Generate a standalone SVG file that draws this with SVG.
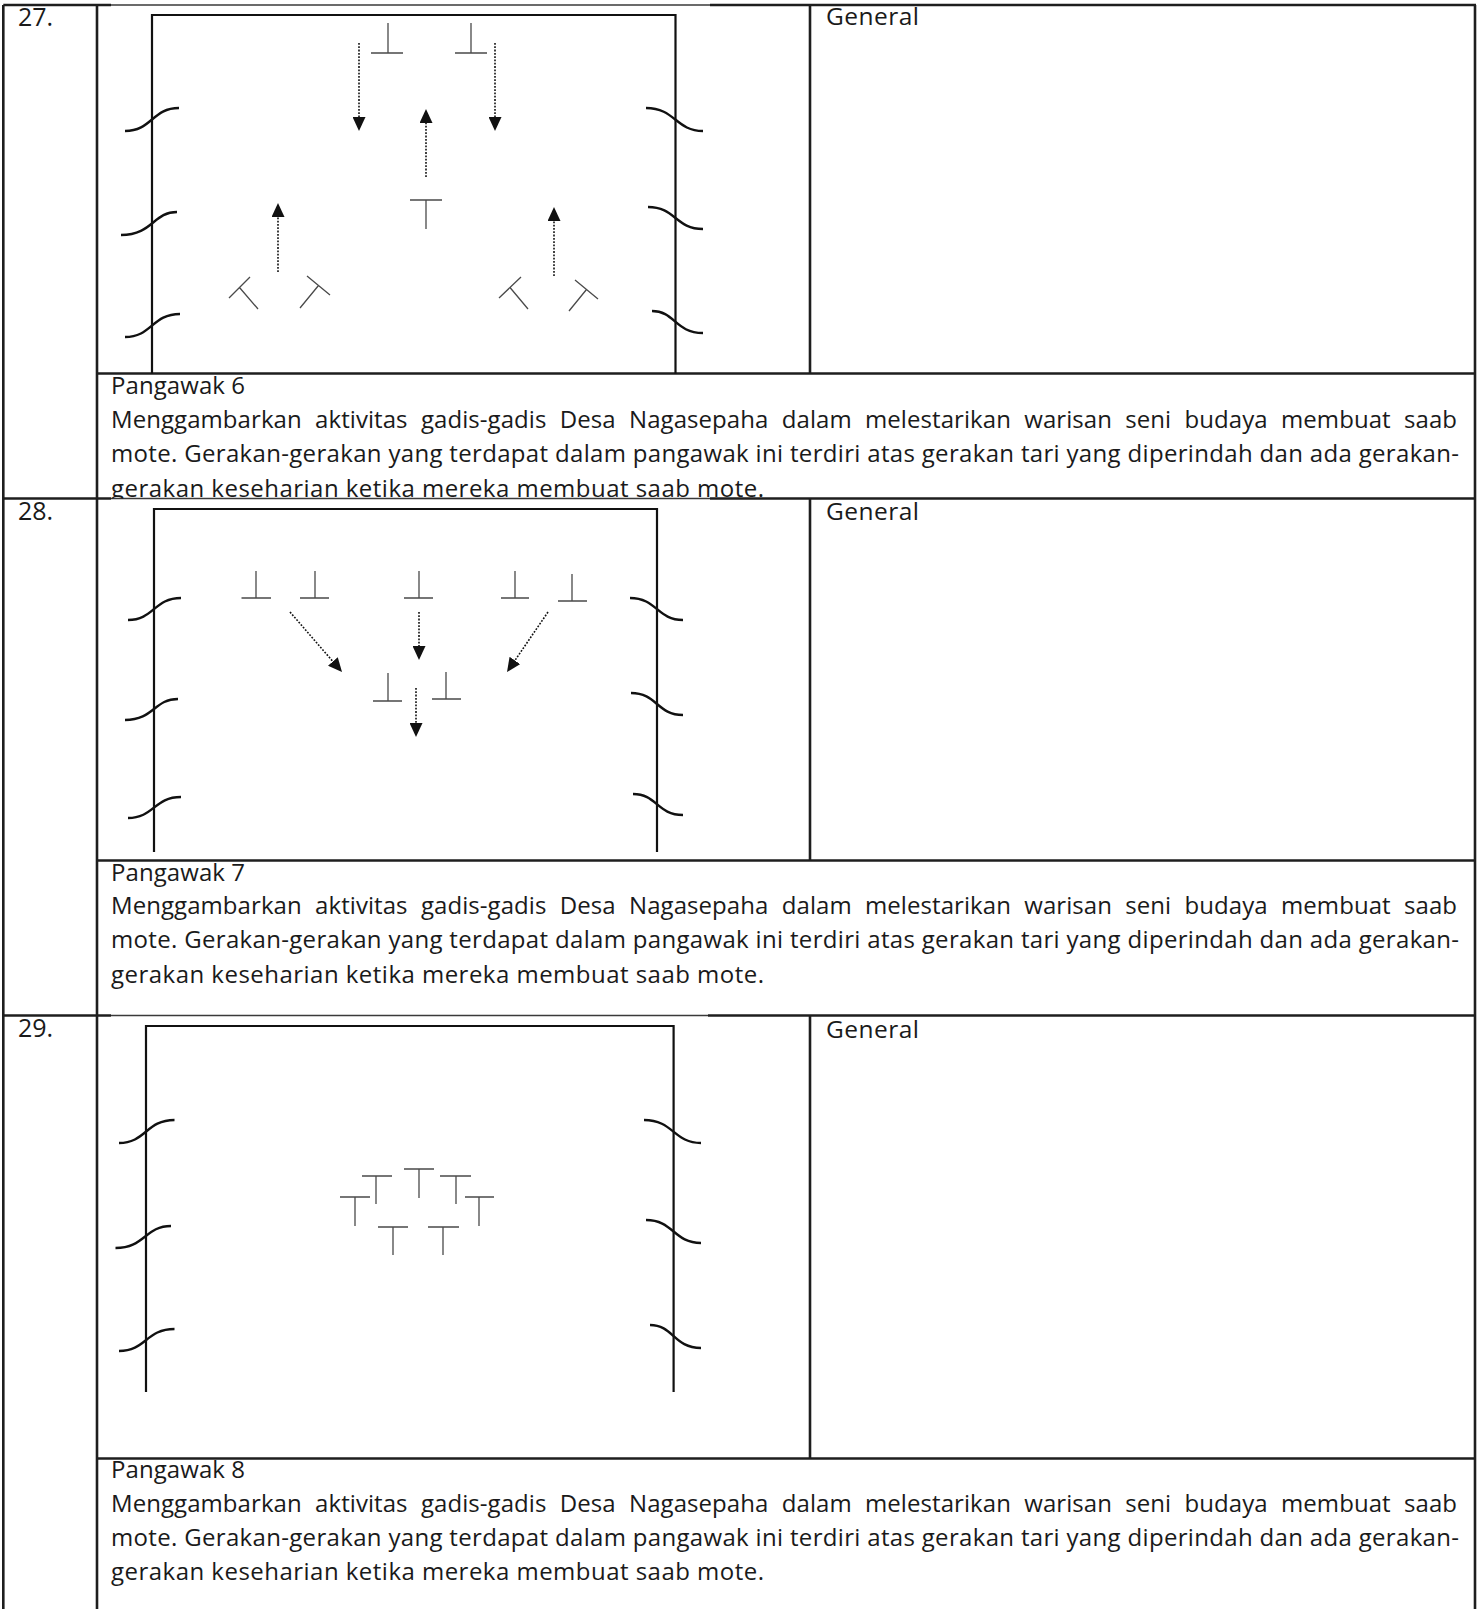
<svg xmlns="http://www.w3.org/2000/svg" width="1480" height="1609" viewBox="0 0 1480 1609">
<style>
.tb{stroke:#1e1e1e;stroke-width:2.6;fill:none}
.tbt{stroke:#3a3a3a;stroke-width:1.4;fill:none}
.st{stroke:#111;stroke-width:2.2;fill:none}
.br{stroke:#111;stroke-width:2.4;fill:none}
.dn{stroke:#4a4a4a;stroke-width:1.3;fill:none}
.ar{stroke:#111;stroke-width:1.6;stroke-dasharray:1.8 1.5;fill:none;marker-end:url(#ah)}
text{font-family:"Open Sans","Liberation Sans",sans-serif;fill:#1a1a1a;font-weight:500}
.num{font-size:25px}
.gen{font-size:24.5px}
.body{font-size:24px}
.l1{word-spacing:7px}
</style>
<defs>
<marker id="ah" markerUnits="userSpaceOnUse" markerWidth="14" markerHeight="13" refX="10" refY="6.5" orient="auto"><path d="M0,0 L14,6.5 L0,13 z" fill="#111"/></marker>
<clipPath id="clip27"><rect x="100" y="470" width="1370" height="28.5"/></clipPath>
</defs>
<rect width="1480" height="1609" fill="#fff"/>

<g id="table">
<line class="tb" x1="3.3" y1="5" x2="111" y2="5"/>
<line class="tbt" x1="111" y1="5" x2="710" y2="5"/>
<line class="tb" x1="710" y1="5" x2="1476" y2="5"/>
<line class="tb" x1="97" y1="373.5" x2="1476" y2="373.5"/>
<line class="tb" x1="3.3" y1="498.5" x2="111" y2="498.5"/>
<line class="tbt" x1="111" y1="498.5" x2="710" y2="498.5"/>
<line class="tb" x1="710" y1="498.5" x2="1476" y2="498.5"/>
<line class="tb" x1="97" y1="860.5" x2="1476" y2="860.5"/>
<line class="tb" x1="3.3" y1="1015.5" x2="111" y2="1015.5"/>
<line class="tbt" x1="111" y1="1015.5" x2="708" y2="1015.5"/>
<line class="tb" x1="708" y1="1015.5" x2="1476" y2="1015.5"/>
<line class="tb" x1="97" y1="1458.5" x2="1476" y2="1458.5"/>
<line class="tb" x1="3.3" y1="5" x2="3.3" y2="1609"/>
<line class="tb" x1="97" y1="5" x2="97" y2="1609"/>
<line class="tb" x1="1475" y1="5" x2="1475" y2="1609"/>
<line class="tb" x1="810" y1="5" x2="810" y2="373.5"/>
<line class="tb" x1="810" y1="498.5" x2="810" y2="860.5"/>
<line class="tb" x1="810" y1="1015.5" x2="810" y2="1458.5"/>
</g>

<g id="labels">
<text class="num" x="18" y="26" textLength="35">27.</text>
<text class="num" x="18" y="519.5" textLength="35">28.</text>
<text class="num" x="18" y="1037" textLength="35">29.</text>
<text class="gen" x="826" y="25" textLength="93">General</text>
<text class="gen" x="826" y="520" textLength="93">General</text>
<text class="gen" x="826" y="1037.5" textLength="93">General</text>
</g>

<!-- Row 27 stage -->
<g id="stage27">
<path class="st" d="M152,373.5 V15 H675.5 V373.5"/>
<path class="br" d="M125,131 C152,131 152,108 179,108"/>
<path class="br" d="M121,235 C153,235 153,212 177,212"/>
<path class="br" d="M125,337 C152,337 152,314 180,314"/>
<path class="br" d="M646,108 C675.5,108 675.5,131 703,131"/>
<path class="br" d="M648,207 C675.5,207 675.5,229 703,229"/>
<path class="br" d="M652,311 C675,311 675,333 703,333"/>
</g>
<g id="dancer27-1"><path class="dn" d="M388,23 V53 M371,53 H403"/></g>
<g id="dancer27-2"><path class="dn" d="M471,23 V53 M455,53 H487"/></g>
<g id="dancer27-3"><path class="dn" d="M410,200 H442 M426,200 V229"/></g>
<g id="dancer27-4"><path class="dn" d="M229,298 L250,277 M239.5,287.5 L258,309"/></g>
<g id="dancer27-5"><path class="dn" d="M307,276 L330,295 M318.5,285.5 L300,308"/></g>
<g id="dancer27-6"><path class="dn" d="M499,298 L521,277 M510,287.5 L528,309"/></g>
<g id="dancer27-7"><path class="dn" d="M575,280 L598,299 M586.5,289.5 L569,311"/></g>

<!-- Row 28 stage -->
<g id="stage28">
<path class="st" d="M154,852 V509 H657 V852"/>
<path class="br" d="M128,620 C154,620 154,598 181,598"/>
<path class="br" d="M125,720 C154,720 154,699 178,699"/>
<path class="br" d="M128,818 C154,818 154,797 181,797"/>
<path class="br" d="M630,598 C657,598 657,620 683,620"/>
<path class="br" d="M631,693 C657,693 657,715 683,715"/>
<path class="br" d="M633,794 C657,794 657,815 683,815"/>
</g>
<g id="dancer28-1"><path class="dn" d="M256,571 V598 M241.5,598 H271"/></g>
<g id="dancer28-2"><path class="dn" d="M315,571 V598 M300,598 H329"/></g>
<g id="dancer28-3"><path class="dn" d="M419,571 V598 M404,598 H433"/></g>
<g id="dancer28-4"><path class="dn" d="M515,571 V598 M501,598 H529"/></g>
<g id="dancer28-5"><path class="dn" d="M572,574 V601 M558,601 H587"/></g>
<g id="dancer28-6"><path class="dn" d="M388,673 V701 M373,701 H402"/></g>
<g id="dancer28-7"><path class="dn" d="M446,672 V699 M432,699 H461"/></g>

<!-- Row 29 stage -->
<g id="stage29">
<path class="st" d="M146,1392 V1026 H673.6 V1392"/>
<path class="br" d="M119,1143 C146,1143 146,1120 174.5,1120"/>
<path class="br" d="M115.5,1248 C145,1248 145,1226 171,1226"/>
<path class="br" d="M119,1351 C146,1351 146,1329 174.5,1329"/>
<path class="br" d="M644,1120 C673.6,1120 673.6,1143 701,1143"/>
<path class="br" d="M646,1220 C673.6,1220 673.6,1243 701,1243"/>
<path class="br" d="M650,1325 C673.6,1325 673.6,1348 701,1348"/>
</g>
<g id="dancer29-1"><path class="dn" d="M362,1176 H392 M376,1176 V1204"/></g>
<g id="dancer29-2"><path class="dn" d="M404,1169 H434 M419,1169 V1198"/></g>
<g id="dancer29-3"><path class="dn" d="M440,1176 H471 M456,1176 V1204"/></g>
<g id="dancer29-4"><path class="dn" d="M340,1197 H370 M355,1197 V1226"/></g>
<g id="dancer29-5"><path class="dn" d="M465,1197 H494 M479,1197 V1226"/></g>
<g id="dancer29-6"><path class="dn" d="M378,1227 H408 M393,1227 V1255"/></g>
<g id="dancer29-7"><path class="dn" d="M428,1227 H459 M443,1227 V1255"/></g>

<g id="connectors">
<line class="ar" x1="359" y1="43" x2="359" y2="127"/>
<line class="ar" x1="495" y1="43" x2="495" y2="127"/>
<line class="ar" x1="426" y1="177" x2="426" y2="113"/>
<line class="ar" x1="278" y1="272" x2="278" y2="207"/>
<line class="ar" x1="554" y1="276" x2="554" y2="211"/>
<line class="ar" x1="290" y1="612" x2="339.4" y2="669"/>
<line class="ar" x1="419" y1="612" x2="419" y2="656"/>
<line class="ar" x1="548" y1="612" x2="509.3" y2="668.7"/>
<line class="ar" x1="416" y1="688" x2="416" y2="733"/>
</g>

<g id="desc27">
<text class="body" x="111" y="394.3" textLength="134">Pangawak 6</text>
<text class="body l1" x="111" y="428.3" textLength="1346" lengthAdjust="spacing">Menggambarkan aktivitas gadis-gadis Desa Nagasepaha dalam melestarikan warisan seni budaya membuat saab</text>
<text class="body" x="111" y="461.7" textLength="1348" lengthAdjust="spacing">mote. Gerakan-gerakan yang terdapat dalam pangawak ini terdiri atas gerakan tari yang diperindah dan ada gerakan-</text>
<text class="body" x="111" y="496.7" textLength="653" lengthAdjust="spacing" clip-path="url(#clip27)">gerakan keseharian ketika mereka membuat saab mote.</text>
</g>
<g id="desc28">
<text class="body" x="111" y="880.7" textLength="134">Pangawak 7</text>
<text class="body l1" x="111" y="914" textLength="1346" lengthAdjust="spacing">Menggambarkan aktivitas gadis-gadis Desa Nagasepaha dalam melestarikan warisan seni budaya membuat saab</text>
<text class="body" x="111" y="948.3" textLength="1348" lengthAdjust="spacing">mote. Gerakan-gerakan yang terdapat dalam pangawak ini terdiri atas gerakan tari yang diperindah dan ada gerakan-</text>
<text class="body" x="111" y="982.7" textLength="653" lengthAdjust="spacing">gerakan keseharian ketika mereka membuat saab mote.</text>
</g>
<g id="desc29">
<text class="body" x="111" y="1478.3" textLength="134">Pangawak 8</text>
<text class="body l1" x="111" y="1511.7" textLength="1346" lengthAdjust="spacing">Menggambarkan aktivitas gadis-gadis Desa Nagasepaha dalam melestarikan warisan seni budaya membuat saab</text>
<text class="body" x="111" y="1546" textLength="1348" lengthAdjust="spacing">mote. Gerakan-gerakan yang terdapat dalam pangawak ini terdiri atas gerakan tari yang diperindah dan ada gerakan-</text>
<text class="body" x="111" y="1580" textLength="653" lengthAdjust="spacing">gerakan keseharian ketika mereka membuat saab mote.</text>
</g>
</svg>
